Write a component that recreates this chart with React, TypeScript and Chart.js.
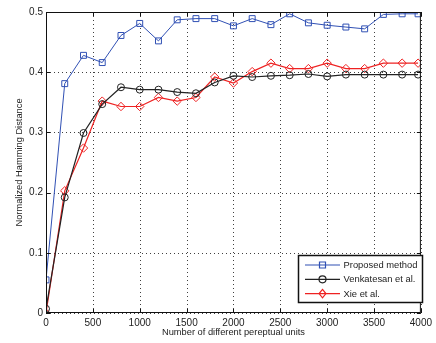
import { useEffect, useRef } from "react";
import { Chart, registerables } from "chart.js";

Chart.register(...registerables);

// Number of perceptual units tested
const units = [0, 200, 400, 600, 800, 1000, 1200, 1400, 1600, 1800, 2000, 2200, 2400, 2600, 2800, 3000, 3200, 3400, 3600, 3800, 3970];

// Normalized Hamming distance per method
const proposed = [0.055, 0.381, 0.428, 0.416, 0.461, 0.481, 0.452, 0.487, 0.489, 0.489, 0.477, 0.489, 0.479, 0.497, 0.482, 0.478, 0.475, 0.472, 0.496, 0.497, 0.497];
const venkatesan = [0.007, 0.192, 0.299, 0.347, 0.375, 0.371, 0.371, 0.367, 0.365, 0.383, 0.394, 0.392, 0.394, 0.395, 0.397, 0.393, 0.396, 0.396, 0.396, 0.396, 0.396];
const xie = [0.0, 0.203, 0.274, 0.352, 0.343, 0.343, 0.358, 0.352, 0.358, 0.392, 0.382, 0.401, 0.415, 0.406, 0.406, 0.415, 0.406, 0.406, 0.415, 0.415, 0.415];

const xTicks = [0, 500, 1000, 1500, 2000, 2500, 3000, 3500, 4000];
const yTicks = [0, 0.1, 0.2, 0.3, 0.4, 0.5];

const seriesNames = ["Proposed method", "Venkatesan et al.", "Xie et al."];
const seriesColors = ["#3050b4", "#222222", "#ee2222"];
const seriesMarkers = ["rect", "circle", "rectRot"];

const FONT = "'Liberation Sans', Arial, sans-serif";

function drawMarker(ctx: CanvasRenderingContext2D, kind: string, x: number, y: number) {
  ctx.beginPath();
  if (kind === "rect") {
    ctx.rect(x - 3, y - 3, 6, 6);
  } else if (kind === "circle") {
    ctx.arc(x, y, 3.5, 0, Math.PI * 2);
  } else {
    ctx.moveTo(x, y - 4.2);
    ctx.lineTo(x + 3.4, y);
    ctx.lineTo(x, y + 4.2);
    ctx.lineTo(x - 3.4, y);
    ctx.closePath();
  }
  ctx.stroke();
}

// dotted grid under the data
const dottedGrid = {
  id: "dottedGrid",
  beforeDatasetsDraw(chart: any) {
    const { ctx, chartArea: a, scales } = chart;
    ctx.save();
    ctx.strokeStyle = "rgba(0,0,0,0.75)";
    ctx.lineWidth = 1;
    ctx.setLineDash([1, 3]);
    ctx.beginPath();
    for (const t of xTicks) {
      const px = Math.round(scales.x.getPixelForValue(t)) + 0.5;
      ctx.moveTo(px, a.bottom);
      ctx.lineTo(px, a.top);
    }
    for (const t of yTicks) {
      const py = Math.round(scales.y.getPixelForValue(t)) + 0.5;
      ctx.moveTo(a.left, py);
      ctx.lineTo(a.right, py);
    }
    ctx.stroke();
    ctx.restore();
  },
};

const frame = {
  id: "frame",
  afterDraw(chart: any) {
    const { ctx, chartArea: a, scales } = chart;
    ctx.save();
    ctx.setLineDash([]);
    // axes box
    ctx.strokeStyle = "#111";
    ctx.lineWidth = 1;
    ctx.strokeRect(a.left + 0.5, a.top + 0.5, a.right - a.left - 1, a.bottom - a.top - 1);
    // inward ticks
    ctx.beginPath();
    for (const t of xTicks) {
      const px = Math.round(scales.x.getPixelForValue(t)) + 0.5;
      ctx.moveTo(px, a.bottom);
      ctx.lineTo(px, a.bottom - 4);
      ctx.moveTo(px, a.top);
      ctx.lineTo(px, a.top + 4);
    }
    for (const t of yTicks) {
      const py = Math.round(scales.y.getPixelForValue(t)) + 0.5;
      ctx.moveTo(a.left, py);
      ctx.lineTo(a.left + 4, py);
      ctx.moveTo(a.right, py);
      ctx.lineTo(a.right - 4, py);
    }
    ctx.stroke();

    // axis titles
    ctx.fillStyle = "#222";
    ctx.font = `9.3px ${FONT}`;
    ctx.textAlign = "center";
    ctx.textBaseline = "middle";
    ctx.fillText("Number of different pereptual units", (a.left + a.right) / 2, 332);
    ctx.save();
    ctx.translate(19, (a.top + a.bottom) / 2);
    ctx.rotate(-Math.PI / 2);
    ctx.fillText("Normalized Hamming Distance", 0, 0);
    ctx.restore();

    // legend
    const lx = 298.5, ly = 255.5, lw = 124, lh = 47;
    ctx.fillStyle = "#fff";
    ctx.fillRect(lx, ly, lw, lh);
    ctx.strokeStyle = "#111";
    ctx.lineWidth = 1.5;
    ctx.strokeRect(lx, ly, lw, lh);
    ctx.font = `9.4px ${FONT}`;
    ctx.textAlign = "left";
    seriesNames.forEach((name, i) => {
      const y = 265 + i * 14.3;
      ctx.strokeStyle = seriesColors[i];
      ctx.lineWidth = 1.2;
      ctx.beginPath();
      ctx.moveTo(305, y);
      ctx.lineTo(340, y);
      ctx.stroke();
      drawMarker(ctx, seriesMarkers[i], 322.5, y);
      ctx.fillStyle = "#222";
      ctx.fillText(name, 343.5, y + 0.5);
    });
    ctx.restore();
  },
};

export default function App() {
  const ref = useRef<HTMLCanvasElement | null>(null);

  useEffect(() => {
    if (!ref.current) return;
    const mk = (i: number, data: number[], width: number, radius: number) => ({
      label: seriesNames[i],
      data: units.map((u, k) => ({ x: u, y: data[k] })),
      borderColor: seriesColors[i],
      borderWidth: width,
      pointStyle: seriesMarkers[i],
      pointRadius: radius,
      pointBorderWidth: 1,
      pointBorderColor: seriesColors[i],
      pointBackgroundColor: "rgba(0,0,0,0)",
      tension: 0,
      fill: false,
    });
    const chart = new Chart(ref.current, {
      type: "line",
      data: {
        datasets: [
          mk(0, proposed, 1, 4.2),
          mk(1, venkatesan, 1.2, 3.5),
          mk(2, xie, 1.2, 4.2),
        ],
      },
      plugins: [dottedGrid, frame],
      options: {
        animation: false,
        responsive: false,
        devicePixelRatio: 1,
        layout: { padding: { top: 12, right: 9, left: 0, bottom: 0 } },
        plugins: { legend: { display: false }, tooltip: { enabled: false } },
        scales: {
          x: {
            type: "linear",
            min: 0,
            max: 4000,
            afterBuildTicks: (s: any) => {
              s.ticks = xTicks.map((v) => ({ value: v }));
            },
            afterFit: (s: any) => {
              s.height = 30;
            },
            grid: { display: false, drawTicks: false, tickLength: 0 },
            border: { display: false },
            ticks: {
              color: "#222",
              font: { family: FONT, size: 10 },
              padding: 4,
              maxRotation: 0,
              autoSkip: false,
              callback: (v: any) => String(v),
            },
          },
          y: {
            type: "linear",
            min: 0,
            max: 0.5,
            afterBuildTicks: (s: any) => {
              s.ticks = yTicks.map((v) => ({ value: v }));
            },
            afterFit: (s: any) => {
              s.width = 46;
            },
            grid: { display: false, drawTicks: false, tickLength: 0 },
            border: { display: false },
            ticks: {
              color: "#222",
              font: { family: FONT, size: 10 },
              padding: 3,
              callback: (v: any) => (v === 0 ? "0" : Number(v).toFixed(1)),
            },
          },
        },
      },
    } as any);
    return () => chart.destroy();
  }, []);

  return (
    <div style={{ position: "fixed", left: 0, top: 0, width: 436, height: 343, background: "#fff" }}>
      <canvas ref={ref} width={436} height={343} style={{ width: 436, height: 343 }} />
    </div>
  );
}
